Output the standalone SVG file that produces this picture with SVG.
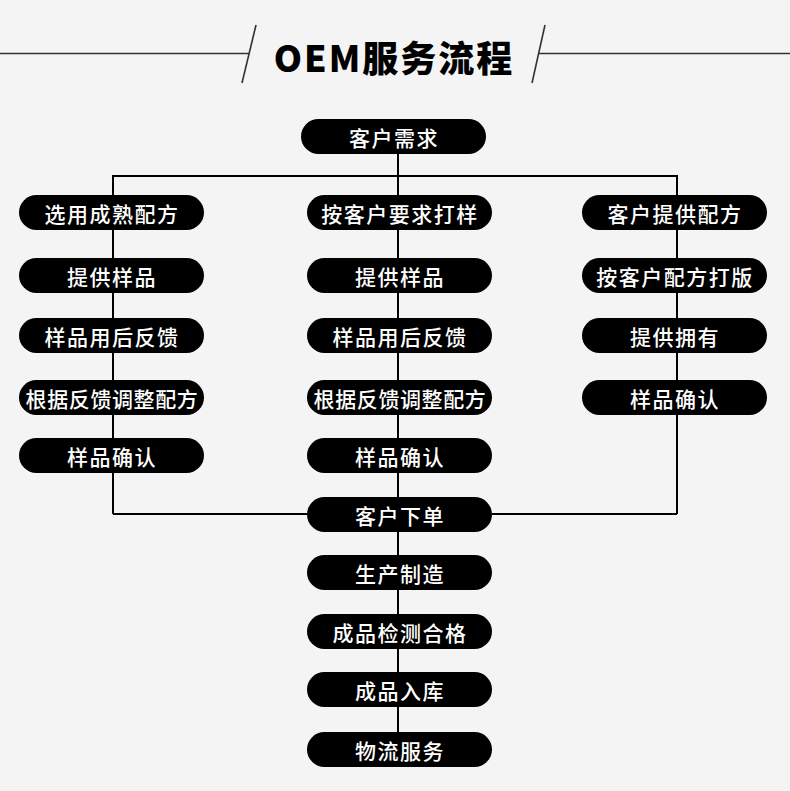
<svg xmlns="http://www.w3.org/2000/svg" width="790" height="791" viewBox="0 0 790 791">
<style>
.pill{fill:#000;}
.t{fill:#fff;font-family:"Noto Sans CJK SC","Noto Sans",sans-serif;font-size:21px;font-weight:500;text-anchor:middle;dominant-baseline:central;letter-spacing:1.5px;}
.t8{letter-spacing:0.6px;}
.c{stroke:#000;stroke-width:2;fill:none;}
.h{stroke:#333;stroke-width:1.6;fill:none;}
</style>
<rect width="790" height="791" fill="#f4f4f4"/>
<g id="title">
<line class="h" x1="0" y1="53.5" x2="249" y2="53.5"/>
<line class="h" x1="256" y1="25" x2="242" y2="83"/>
<line class="h" x1="545" y1="25" x2="532" y2="83"/>
<line class="h" x1="538" y1="53.5" x2="790" y2="53.5"/>
<text x="394" y="56" font-family="'Noto Sans CJK SC','Noto Sans',sans-serif" font-size="36" font-weight="900" letter-spacing="2" text-anchor="middle" dominant-baseline="central" fill="#000">OEM服务流程</text>
</g>
<g id="connectors">
<line class="c" x1="398" y1="154" x2="398" y2="732"/>
<polyline class="c" points="113,195 113,176 677,176 677,195"/>
<line class="c" x1="113" y1="195" x2="113" y2="514"/>
<line class="c" x1="113" y1="514" x2="307" y2="514"/>
<line class="c" x1="677" y1="195" x2="677" y2="514"/>
<line class="c" x1="677" y1="514" x2="492" y2="514"/>
</g>
<g id="n0"><rect class="pill" x="301" y="119" width="185" height="35" rx="17.5"/><text class="t" x="394" y="136.5">客户需求</text></g>
<g id="l1"><rect class="pill" x="19" y="195" width="185" height="35" rx="17.5"/><text class="t" x="112" y="212.5">选用成熟配方</text></g>
<g id="l2"><rect class="pill" x="19" y="258" width="185" height="35" rx="17.5"/><text class="t" x="112" y="275.5">提供样品</text></g>
<g id="l3"><rect class="pill" x="19" y="318" width="185" height="35" rx="17.5"/><text class="t" x="112" y="335.5">样品用后反馈</text></g>
<g id="l4"><rect class="pill" x="19" y="380" width="185" height="35" rx="17.5"/><text class="t t8" x="112" y="397.5">根据反馈调整配方</text></g>
<g id="l5"><rect class="pill" x="19" y="438" width="185" height="35" rx="17.5"/><text class="t" x="112" y="455.5">样品确认</text></g>
<g id="m1"><rect class="pill" x="307" y="195" width="185" height="35" rx="17.5"/><text class="t" x="400" y="212.5">按客户要求打样</text></g>
<g id="m2"><rect class="pill" x="307" y="258" width="185" height="35" rx="17.5"/><text class="t" x="400" y="275.5">提供样品</text></g>
<g id="m3"><rect class="pill" x="307" y="318" width="185" height="35" rx="17.5"/><text class="t" x="400" y="335.5">样品用后反馈</text></g>
<g id="m4"><rect class="pill" x="307" y="380" width="185" height="35" rx="17.5"/><text class="t t8" x="400" y="397.5">根据反馈调整配方</text></g>
<g id="m5"><rect class="pill" x="307" y="438" width="185" height="35" rx="17.5"/><text class="t" x="400" y="455.5">样品确认</text></g>
<g id="r1"><rect class="pill" x="582" y="195" width="185" height="35" rx="17.5"/><text class="t" x="675" y="212.5">客户提供配方</text></g>
<g id="r2"><rect class="pill" x="582" y="258" width="185" height="35" rx="17.5"/><text class="t" x="675" y="275.5">按客户配方打版</text></g>
<g id="r3"><rect class="pill" x="582" y="318" width="185" height="35" rx="17.5"/><text class="t" x="675" y="335.5">提供拥有</text></g>
<g id="r4"><rect class="pill" x="582" y="380" width="185" height="35" rx="17.5"/><text class="t" x="675" y="397.5">样品确认</text></g>
<g id="b1"><rect class="pill" x="307" y="497" width="185" height="35" rx="17.5"/><text class="t" x="400" y="514.5">客户下单</text></g>
<g id="b2"><rect class="pill" x="307" y="555" width="185" height="35" rx="17.5"/><text class="t" x="400" y="572.5">生产制造</text></g>
<g id="b3"><rect class="pill" x="307" y="614" width="185" height="35" rx="17.5"/><text class="t" x="400" y="631.5">成品检测合格</text></g>
<g id="b4"><rect class="pill" x="307" y="672" width="185" height="35" rx="17.5"/><text class="t" x="400" y="689.5">成品入库</text></g>
<g id="b5"><rect class="pill" x="307" y="732" width="185" height="35" rx="17.5"/><text class="t" x="400" y="749.5">物流服务</text></g>
</svg>
